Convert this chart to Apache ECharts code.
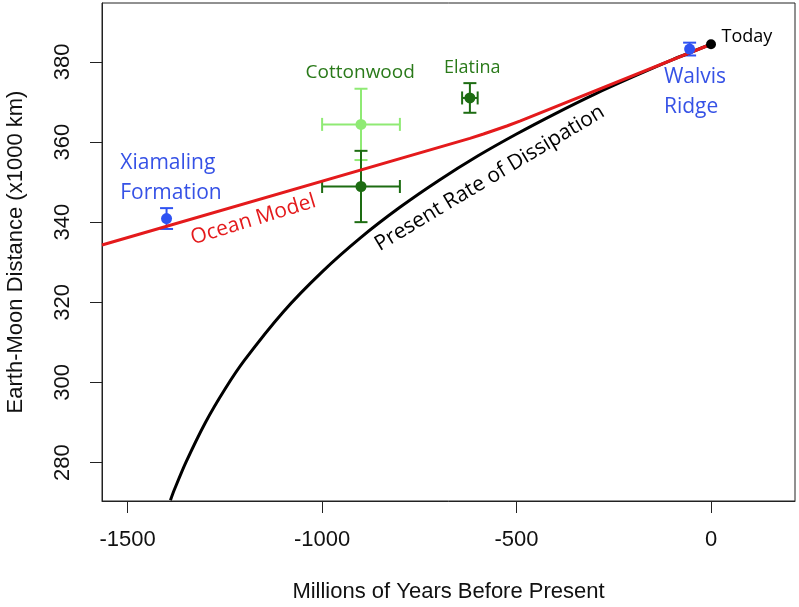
<!DOCTYPE html>
<html>
<head>
<meta charset="utf-8">
<script src="https://cdn.jsdelivr.net/npm/echarts@6/dist/echarts.min.js"></script>
<style>
html,body{margin:0;padding:0;background:#fff;}
#chart{width:799px;height:607px;}
</style>
</head>
<body>
<div id="chart"></div>
<script>
// ---- data ----
const xTicks = [-1500, -1000, -500, 0];
const yTicks = [280, 300, 320, 340, 360, 380];

// observations (Myr before present, Earth-Moon distance x1000 km)
const obsNames = ['Xiamaling Formation', 'Cottonwood (alt)', 'Cottonwood', 'Elatina', 'Walvis Ridge', 'Today'];
const obsAge   = [-1400, -900, -900, -620, -55, 0];
const obsDist  = [340.9, 364.4, 348.9, 371.0, 383.2, 384.4];
const obsAgeErr  = [0, 100, 100, 20, 0, 0];
const obsDistErr = [2.6, 8.9, 8.9, 3.7, 1.6, 0];
const obsColors  = ['#2f52f2', '#8fea74', '#1d6c12', '#1d6c12', '#2f52f2', '#000000'];

// ocean model curve
const oceanAge  = [-1566, -620, -585, -555, -525, -490, 0];
const oceanDist = [334.3, 360.9, 362.0, 363.0, 364.0, 365.3, 384.4];

// present rate of dissipation curve
const presentAge  = [-1390, -1380, -1350, -1300, -1250, -1200, -1100, -1000, -900, -800, -700, -600, -500, -400, -300, -200, -100, 0];
const presentDist = [270.6, 273.2, 280.1, 290.0, 298.3, 305.5, 317.6, 327.6, 336.2, 343.7, 350.4, 356.5, 362.0, 367.1, 371.9, 376.3, 380.5, 384.4];

// annotations
const noteText = ['Xiamaling\nFormation', 'Cottonwood', 'Elatina', 'Walvis\nRidge', 'Today', 'Ocean Model', 'Present Rate of Dissipation'];
const noteAge  = [-1519, -902, -614, -121, 27, -1177, -569];
const noteDist = [351.0, 377.4, 378.6, 372.4, 386.2, 340.6, 351.0];

// ---- styles ----
const noteStyle = [
  {color: '#3652e6', fontSize: 21, align: 'left', lineHeight: 30, rotate: 0},
  {color: '#2a7a1a', fontSize: 19, align: 'center', rotate: 0},
  {color: '#2a7a1a', fontSize: 18, align: 'center', rotate: 0},
  {color: '#3652e6', fontSize: 21, align: 'left', lineHeight: 30, rotate: 0},
  {color: '#000000', fontSize: 18, align: 'left', rotate: 0},
  {color: '#e41a1c', fontSize: 21, align: 'center', rotate: 17},
  {color: '#000000', fontSize: 21, align: 'center', rotate: 31}
];

const chart = echarts.init(document.getElementById('chart'), null, {renderer: 'canvas'});
const axisFont = 'Liberation Sans';
const noteFont = 'Open Sans';

const errData = obsAge.map((a, i) => ({
  name: obsNames[i],
  value: [a, obsDist[i], a - obsAgeErr[i], a + obsAgeErr[i], obsDist[i] - obsDistErr[i], obsDist[i] + obsDistErr[i]],
  itemStyle: {color: obsColors[i], opacity: 1}
}));

function renderErr(params, api) {
  const x = api.value(0), y = api.value(1);
  const xlo = api.value(2), xhi = api.value(3), ylo = api.value(4), yhi = api.value(5);
  const color = api.visual('color');
  const cap = 6.5;
  const children = [];
  const st = {stroke: color, lineWidth: 2};
  if (yhi > ylo) {
    const a = api.coord([x, ylo]), b = api.coord([x, yhi]);
    children.push({type: 'line', shape: {x1: a[0], y1: a[1], x2: b[0], y2: b[1]}, style: st});
    children.push({type: 'line', shape: {x1: a[0] - cap, y1: a[1], x2: a[0] + cap, y2: a[1]}, style: st});
    children.push({type: 'line', shape: {x1: b[0] - cap, y1: b[1], x2: b[0] + cap, y2: b[1]}, style: st});
  }
  if (xhi > xlo) {
    const a = api.coord([xlo, y]), b = api.coord([xhi, y]);
    children.push({type: 'line', shape: {x1: a[0], y1: a[1], x2: b[0], y2: b[1]}, style: st});
    children.push({type: 'line', shape: {x1: a[0], y1: a[1] - cap, x2: a[0], y2: a[1] + cap}, style: st});
    children.push({type: 'line', shape: {x1: b[0], y1: b[1] - cap, x2: b[0], y2: b[1] + cap}, style: st});
  }
  return {type: 'group', children: children};
}

const option = {
  backgroundColor: '#ffffff',
  animation: false,
  grid: {left: 102, right: 4, top: 3, bottom: 106, show: true, borderColor: '#222', borderWidth: 1, backgroundColor: '#fff',
         containLabel: false, outerBoundsMode: 'none'},
  xAxis: {
    type: 'value', min: -1566, max: 216,
    name: 'Millions of Years Before Present', nameLocation: 'middle', nameGap: 80,
    nameTextStyle: {fontFamily: axisFont, fontSize: 22, color: '#111'},
    axisLine: {show: true, onZero: false, lineStyle: {color: '#222', width: 1}},
    axisTick: {show: true, length: 12, customValues: xTicks, lineStyle: {color: '#222'}},
    axisLabel: {customValues: xTicks, margin: 28, fontFamily: axisFont, fontSize: 22, color: '#111', formatter: v => String(v)},
    splitLine: {show: false}
  },
  yAxis: {
    type: 'value', min: 270.4, max: 394.7,
    name: 'Earth-Moon Distance (x1000 km)', nameLocation: 'middle', nameGap: 75,
    nameTextStyle: {fontFamily: axisFont, fontSize: 22, color: '#111'},
    axisLine: {show: true, onZero: false, lineStyle: {color: '#222', width: 1}},
    axisTick: {show: true, length: 12, customValues: yTicks, lineStyle: {color: '#222'}},
    axisLabel: {customValues: yTicks, rotate: 90, margin: 28, fontFamily: axisFont, fontSize: 22, color: '#111', formatter: v => String(v)},
    splitLine: {show: false}
  },
  series: [
    {
      type: 'custom', name: 'errors', renderItem: renderErr, data: errData, z: 2, silent: true,
      encode: {x: [0, 2, 3], y: [1, 4, 5]}
    },
    {
      type: 'line', name: 'Present Rate of Dissipation', data: presentAge.map((a, i) => [a, presentDist[i]]),
      showSymbol: false, smooth: 0.3, lineStyle: {color: '#000', width: 3}, z: 3, silent: true
    },
    {
      type: 'line', name: 'Ocean Model', data: oceanAge.map((a, i) => [a, oceanDist[i]]),
      showSymbol: false, lineStyle: {color: '#e41a1c', width: 3}, z: 4, silent: true
    },
    {
      type: 'scatter', name: 'points', data: errData.map(d => ({value: [d.value[0], d.value[1]], itemStyle: d.itemStyle})),
      itemStyle: {opacity: 1},
      symbolSize: (v, p) => (p.dataIndex === 5 ? 10 : 11), z: 5, silent: true
    },
    {
      type: 'scatter', name: 'notes', symbolSize: 0, silent: true, z: 6,
      itemStyle: {opacity: 1},
      data: noteText.map((t, i) => ({
        value: [noteAge[i], noteDist[i]],
        label: {
          show: true, position: 'inside', formatter: t, opacity: 1,
          fontFamily: noteFont, fontSize: noteStyle[i].fontSize, color: noteStyle[i].color,
          align: noteStyle[i].align, verticalAlign: 'middle', rotate: noteStyle[i].rotate,
          lineHeight: noteStyle[i].lineHeight || noteStyle[i].fontSize * 1.2
        }
      }))
    }
  ]
};
chart.setOption(option);
</script>
</body>
</html>
